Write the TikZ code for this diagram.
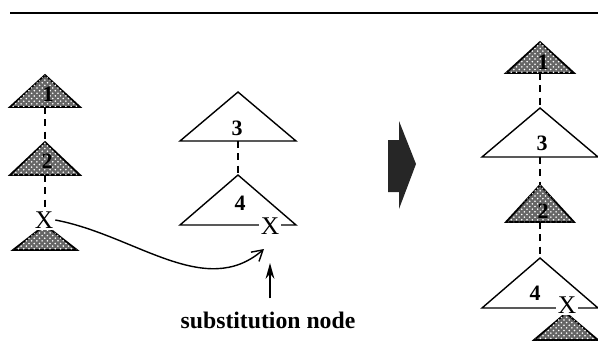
\documentclass[tikz,border=0pt]{standalone}
\usepackage{fontspec}
\setmainfont{Liberation Serif}
\usetikzlibrary{arrows.meta,patterns}

% one triangle of a tree: name, style, apex x, apex y, half base, height
\newcommand{\treepart}[6]{%
  \draw[#2] (#3,#4) coordinate (#1top) -- ++(#5,#6) -- ++({-2*#5},0) -- cycle;
  \coordinate (#1bot) at ({#3},{#4+#6});
}

\begin{document}
\begin{tikzpicture}[
  x=0.02cm,y=-0.02cm,
  plain/.style={draw,line width=0.8pt,line join=miter},
  shaded/.style={plain,line width=1pt,fill=black!60,postaction={pattern=crosshatch dots,pattern color=white}},
  link/.style={line width=1pt,dash pattern=on 4pt off 3pt},
  num/.style={inner sep=0pt,font=\fontsize{12.5}{14}\selectfont\bfseries},
  slot/.style={inner sep=1pt,fill=white,font=\fontsize{14.5}{16}\selectfont}
]
\useasboundingbox (0,0) rectangle (598,341);
\draw[line width=1pt] (10,13) -- (598,13);

% left tree: 1 over 2, X to be filled
\treepart{la}{shaded}{45}{75}{35}{32}
\treepart{lb}{shaded}{45}{142}{35}{33}
\treepart{lc}{shaded}{45}{225}{32}{25}
\node[slot] (lx) at (44,220) {X};
\node[num] (lalbl) at (48,94) {1};
\node[num] (lblbl) at (47,161) {2};
\draw[link] (labot) -- (latop |- lbtop);
\draw[link] (lbbot) -- (lx.north -| lbbot);

% middle tree: 3 over 4, X is the substitution node
\treepart{ma}{plain}{238}{92}{58}{49}
\treepart{mb}{plain}{238}{175}{58}{50}
\node[slot] (mx) at (270,226) {X};
\node[num] (malbl) at (237,128) {3};
\node[num] (mblbl) at (240,203) {4};
\draw[link] (mabot) -- (mbtop);

\node[inner sep=0pt,font=\fontsize{13.5}{16}\selectfont\bfseries] (subst) at (268,320) {substitution node};
\coordinate (uptip) at (270,263);
\draw[line width=0.9pt,-{Stealth[length=9pt,width=5pt]},shorten <=0.26cm] (subst.north -| uptip) -- (uptip);
\coordinate (curvetip) at (264,249);
\draw[line width=0.8pt,-{Straight Barb[length=6pt,width=7pt]}] (lx.east) .. controls (135,235) and (205,300) .. (curvetip);

% big arrow
\fill[black!85] (388,140) -- (399,140) -- (399,121) -- (416,164) -- (399,209) -- (399,192) -- (388,192) -- cycle;

% right tree after substitution
\treepart{ra}{shaded}{540}{42}{34}{31}
\treepart{rb}{plain}{540}{108}{58}{49}
\treepart{rc}{shaded}{540}{185}{34}{37}
\treepart{rd}{plain}{540}{258}{58}{50}
\treepart{re}{shaded}{566}{313}{32}{27}
\node[slot] (rx) at (567,305) {X};
\node[num] (ralbl) at (543,62) {1};
\node[num] (rblbl) at (542,143) {3};
\node[num] (rclbl) at (543,211) {2};
\node[num] (rdlbl) at (535,293) {4};
\draw[link] (rabot) -- (rbtop);
\draw[link] (rbbot) -- (rctop);
\draw[link] (rcbot) -- (rdtop);
\end{tikzpicture}
\end{document}
